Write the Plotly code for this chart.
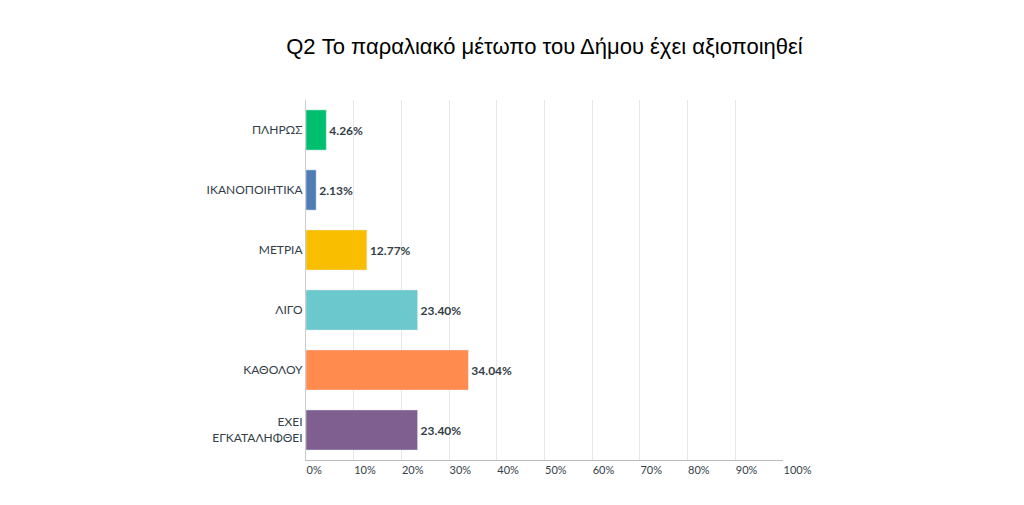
import plotly.graph_objects as go

categories = ["ΠΛΗΡΩΣ", "ΙΚΑΝΟΠΟΙΗΤΙΚΑ", "ΜΕΤΡΙΑ", "ΛΙΓΟ", "ΚΑΘΟΛΟΥ", "ΕΧΕΙ<br>ΕΓΚΑΤΑΛΗΦΘΕΙ"]
values = [4.26, 2.13, 12.77, 23.40, 34.04, 23.40]
colors = ["#00bf6f", "#507cb6", "#f9be00", "#6bc8cd", "#ff8b4f", "#7f5f90"]
tickvals = [0, 10, 20, 30, 40, 50, 60, 70, 80, 90, 100]
ticktext = [f"{v}%" for v in tickvals]

fig = go.Figure(go.Bar(
    y=categories, x=values, orientation="h", marker_color=colors, width=0.67,
    text=[f"<b>{v:.2f}%</b>" for v in values], textposition="outside",
    textfont=dict(size=12, color="#333e48"), cliponaxis=False,
))
fig.update_layout(
    width=1024, height=505, plot_bgcolor="white", paper_bgcolor="white",
    margin=dict(l=298, r=249, t=92, b=53),
    font=dict(family="Lato, Liberation Sans, sans-serif", color="#333e48"),
    title=dict(text="Q2 Το παραλιακό μέτωπο του Δήμου έχει αξιοποιηθεί", x=0.5, xref="paper",
               y=0.925, yanchor="middle", font=dict(size=22, color="#000", family="Liberation Sans, Arial")),
    showlegend=False, bargap=0.33,
)
fig.update_xaxes(range=[0, 100], tickvals=tickvals, ticktext=ticktext, showgrid=True,
                 gridcolor="#e6e6e6", zeroline=False, ticklabelposition="outside right",
                 tickfont=dict(size=11, color="#333e48"), showline=True, linecolor="#bbbbbb")
fig.update_yaxes(autorange="reversed", tickfont=dict(size=12, color="#333e48"),
                 showline=True, linecolor="#cccccc", ticks="", ticklen=8, tickcolor="white")
fig.write_html("out.html")
